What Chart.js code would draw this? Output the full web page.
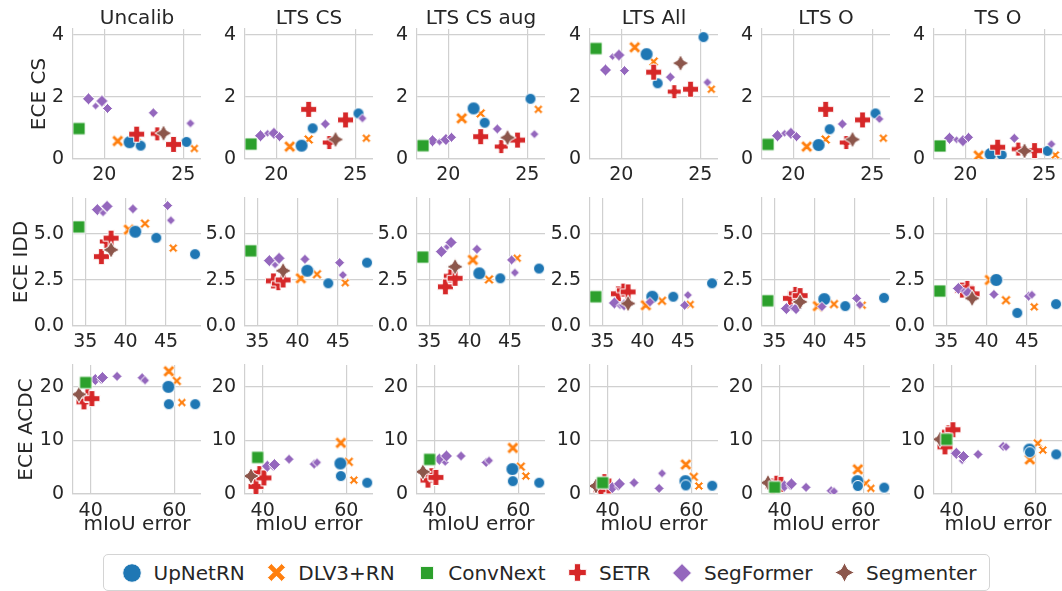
<!DOCTYPE html>
<html>
<head>
<meta charset="utf-8">
<script src="https://cdn.jsdelivr.net/npm/chart.js@4.4.1/dist/chart.umd.min.js"></script>
<style>
  html, body { margin: 0; padding: 0; background: #ffffff; overflow: hidden; width: 1062px; height: 591px; }
  #fig { position: relative; width: 1062px; height: 591px; overflow: hidden; }
  #fig > canvas { position: absolute; }
  #legend {
    position: absolute; left: 103px; top: 554px; width: 887px; height: 37px;
    box-sizing: border-box; border: 1px solid #d4d4d4; border-radius: 5px;
    display: flex; align-items: center; padding-left: 18px;
    font-family: 'DejaVu Sans', sans-serif; font-size: 20px; color: #262626; white-space: nowrap;
  }
  #legend .item { display: flex; align-items: center; margin-right: 22px; }
</style>
</head>
<body>
<div id="fig"><div id="legend"></div></div>
<script>
// ---------------- categories and labels ----------------
const models = ['UpNetRN', 'DLV3+RN', 'ConvNext', 'SETR', 'SegFormer', 'Segmenter'];
const methods = ['Uncalib', 'LTS CS', 'LTS CS aug', 'LTS All', 'LTS O', 'TS O'];
const rowLabels = ['ECE CS', 'ECE IDD', 'ECE ACDC'];
const xLabel = 'mIoU error';

// ---------------- tick labels ----------------
const xTicksCS = [20, 25];
const xTicksIDD = [35, 40, 45];
const xTicksACDC = [40, 60];
const yTicksCS = [0, 2, 4];
const yTicksIDD = [0, 2.5, 5];
const yTicksACDC = [0, 10, 20];

// ---------------- mIoU error of each model variant ----------------
const upnetErrCS = [21.6, 22.3, 25.2];
const dlvErrCS = [20.85, 22.05, 25.7];
const cnErrCS = [18.4];
const setrErrCS = [22.05, 23.35, 24.38];
const sfErrCS = [19.0, 19.45, 19.85, 20.2, 23.1, 25.45];
const segErrCS = [23.75];

const upnetErrIDD = [41.2, 43.8, 48.6];
const dlvErrIDD = [40.4, 42.4, 45.9];
const cnErrIDD = [34.2];
const setrErrIDD = [37.0, 37.6, 38.2];
const sfErrIDD = [36.5, 37.2, 37.7, 40.9, 45.2, 45.6];
const segErrIDD = [38.2];

const upnetErrACDC = [58.6, 58.7, 65.0];
const dlvErrACDC = [58.7, 60.6, 61.8];
const cnErrACDC = [38.8];
const setrErrACDC = [38.4, 39.2, 40.3];
const sfErrACDC = [41.1, 42.5, 42.8, 46.3, 52.3, 53.0];
const segErrACDC = [37.2];

// ---------------- ECE per calibration method (one inner list per method) ----------------
const upnetEceCS = [[0.54, 0.43, 0.55], [0.43, 0.99, 1.47], [1.63, 1.17, 1.94], [3.38, 2.44, 3.93], [0.45, 0.96, 1.47], [0.16, 0.13, 0.26]];
const dlvEceCS = [[0.58, 0.72, 0.34], [0.40, 0.63, 0.67], [1.31, 1.47, 1.60], [3.60, 3.14, 2.25], [0.40, 0.63, 0.67], [0.11, 0.30, 0.13]];
const cnEceCS = [[0.98], [0.48], [0.43], [3.56], [0.47], [0.42]];
const setrEceCS = [[0.80, 0.81, 0.47], [1.60, 0.53, 1.26], [0.72, 0.40, 0.61], [2.80, 2.17, 2.25], [1.60, 0.53, 1.26], [0.38, 0.32, 0.27]];
const sfEceCS = [[1.94, 1.71, 1.87, 1.63, 1.49, 1.15], [0.75, 0.83, 0.83, 0.72, 1.13, 1.31], [0.59, 0.55, 0.63, 0.70, 0.97, 0.80], [2.87, 3.30, 3.35, 2.85, 2.64, 2.47], [0.75, 0.83, 0.83, 0.72, 1.13, 1.29], [0.67, 0.62, 0.59, 0.70, 0.67, 0.48]];
const segEceCS = [[0.83], [0.63], [0.69], [3.09], [0.63], [0.26]];

const upnetEceIDD = [[5.12, 4.79, 3.90], [3.00, 2.32, 3.44], [2.86, 2.59, 3.12], [1.59, 1.59, 2.32], [1.46, 1.08, 1.53], [2.50, 0.71, 1.19]];
const dlvEceIDD = [[5.23, 5.56, 4.23], [2.59, 2.81, 2.35], [3.59, 2.53, 3.68], [1.13, 1.37, 1.17], [1.08, 1.19, 1.13], [2.50, 1.40, 1.04]];
const cnEceIDD = [[5.38], [4.08], [3.74], [1.59], [1.37], [1.90]];
const setrEceIDD = [[3.77, 4.59, 4.77], [2.45, 2.30, 2.50], [2.13, 2.72, 2.59], [1.75, 1.95, 1.85], [1.50, 1.77, 1.65], [1.95, 2.10, 1.75]];
const sfEceIDD = [[6.32, 6.14, 6.50, 6.36, 6.54, 5.74], [3.55, 3.32, 3.68, 3.63, 3.44, 2.77], [4.04, 4.30, 4.54, 4.17, 3.59, 2.90], [1.25, 1.10, 1.15, 1.30, 1.13, 1.68], [0.95, 1.00, 0.95, 1.05, 1.50, 1.15], [2.04, 1.90, 1.80, 1.72, 1.62, 1.70]];
const segEceIDD = [[4.14], [3.00], [3.22], [1.22], [1.31], [1.50]];

const upnetEceACDC = [[20.0, 16.76, 16.76], [5.7, 3.35, 2.1], [4.65, 2.4, 2.1], [2.4, 1.6, 1.55], [2.4, 1.5, 1.2], [8.3, 7.8, 7.4]];
const dlvEceACDC = [[22.9, 21.1, 17.07], [9.55, 6.0, 2.6], [8.6, 5.1, 3.35], [5.5, 3.2, 1.5], [4.6, 2.0, 1.05], [6.45, 9.45, 8.2]];
const cnEceACDC = [[20.8], [6.83], [6.45], [2.1], [1.25], [10.2]];
const setrEceACDC = [[17.2, 18.4, 17.8], [1.4, 4.0, 3.0], [2.6, 3.6, 3.1], [0.8, 2.5, 1.5], [1.5, 2.2, 1.8], [8.8, 11.6, 12.0]];
const sfEceACDC = [[21.36, 21.2, 21.73, 21.97, 21.7, 21.2], [5.2, 5.0, 5.5, 6.5, 5.58, 5.9], [6.5, 5.9, 7.1, 7.1, 5.9, 6.25], [1.2, 1.3, 1.9, 2.1, 1.05, 3.85], [1.5, 1.4, 1.9, 1.25, 0.6, 0.5], [7.6, 6.2, 7.0, 7.4, 8.9, 8.8]];
const segEceACDC = [[18.6], [3.35], [4.15], [1.5], [2.1], [10.2]];

// ---------------- styling ----------------
const FONT = "'DejaVu Sans', sans-serif";
const INK = '#262626';
const GRID = '#d0d0d0';
const colors = ['#1f77b4', '#ff7f0e', '#2ca02c', '#d62728', '#9467bd', '#8c564b'];
const shapes = ['circle', 'x', 'square', 'plus', 'diamond', 'star'];
const markerRadius = [[6.5, 5.5, 5.5], [6, 5, 4.5], [8.5], [8, 7, 8], [6, 3.8, 6, 5, 5, 4.5], [8.5]];
const legendRadius = [9.3, 9, 9.2, 8.8, 9.5, 9.8];
const drawOrder = [4, 5, 0, 3, 2, 1];   // lower value is painted on top

const colLeft = [73, 245, 417, 590, 762, 934];
const PLOT_W = 128;
const Y_AXIS_W = 72;
const rowLayout = [
  { top: 29, plotH: 130, xMin: 18.02, xMax: 26.12, yMax: 4.19, xTicks: xTicksCS, yTicks: yTicksCS, digits: 0, xAxisH: 30, tickPad: 5, yTitlePad: 26.7 },
  { top: 198, plotH: 128, xMin: 33.48, xMax: 49.34, yMax: 6.95, xTicks: xTicksIDD, yTicks: yTicksIDD, digits: 1, xAxisH: 30, tickPad: 5, yTitlePad: 8.3 },
  { top: 365, plotH: 129, xMin: 35.77, xMax: 66.39, yMax: 24.07, xTicks: xTicksACDC, yTicks: yTicksACDC, digits: 0, xAxisH: 53, tickPad: 6, yTitlePad: 13.8 }
];

const errByRow = [
  [upnetErrCS, dlvErrCS, cnErrCS, setrErrCS, sfErrCS, segErrCS],
  [upnetErrIDD, dlvErrIDD, cnErrIDD, setrErrIDD, sfErrIDD, segErrIDD],
  [upnetErrACDC, dlvErrACDC, cnErrACDC, setrErrACDC, sfErrACDC, segErrACDC]
];
const eceByRow = [
  [upnetEceCS, dlvEceCS, cnEceCS, setrEceCS, sfEceCS, segEceCS],
  [upnetEceIDD, dlvEceIDD, cnEceIDD, setrEceIDD, sfEceIDD, segEceIDD],
  [upnetEceACDC, dlvEceACDC, cnEceACDC, setrEceACDC, sfEceACDC, segEceACDC]
];

// ---------------- marker sprites (filled shapes with a thin white edge) ----------------
function tracePoly(g, pts, rot) {
  const cs = Math.cos(rot), sn = Math.sin(rot);
  pts.forEach(([px, py], i) => {
    const X = px * cs - py * sn, Y = px * sn + py * cs;
    if (i === 0) g.moveTo(X, Y); else g.lineTo(X, Y);
  });
  g.closePath();
}

function markerCanvas(shape, color, r) {
  const pad = 1.5;
  const s = Math.ceil(2 * r + 2 * pad);
  const cv = document.createElement('canvas');
  cv.width = s; cv.height = s;
  const g = cv.getContext('2d');
  g.translate(s / 2, s / 2);
  g.beginPath();
  if (shape === 'circle') {
    g.arc(0, 0, r, 0, Math.PI * 2);
  } else if (shape === 'square') {
    const h = r * 0.72;
    g.rect(-h, -h, 2 * h, 2 * h);
  } else if (shape === 'diamond') {
    tracePoly(g, [[0, -r], [r, 0], [0, r], [-r, 0]], 0);
  } else if (shape === 'plus' || shape === 'x') {
    const a = r * (shape === 'plus' ? 0.36 : 0.3);
    const L = shape === 'plus' ? r : r * Math.SQRT2 - a;
    const pts = [[a, -L], [a, -a], [L, -a], [L, a], [a, a], [a, L], [-a, L], [-a, a], [-L, a], [-L, -a], [-a, -a], [-a, -L]];
    tracePoly(g, pts, shape === 'x' ? Math.PI / 4 : 0);
  } else if (shape === 'star') {
    const pts = [];
    for (let k = 0; k < 8; k++) {
      const ang = -Math.PI / 2 + k * Math.PI / 4;
      const rr = k % 2 === 0 ? r : r * 0.5;
      pts.push([rr * Math.cos(ang), rr * Math.sin(ang)]);
    }
    tracePoly(g, pts, 0);
  }
  g.fillStyle = color;
  g.fill();
  g.lineWidth = 1;
  g.strokeStyle = '#ffffff';
  g.stroke();
  return cv;
}

const sprites = models.map((m, k) => markerRadius[k].map(r => markerCanvas(shapes[k], colors[k], r)));

// ---------------- one facet: a scatter of ECE against mIoU error ----------------
function panelConfig(r, c) {
  const lay = rowLayout[r];
  const datasets = models.map((m, k) => ({
    label: m,
    data: errByRow[r][k].map((x, i) => ({ x: x, y: eceByRow[r][k][c][i] })),
    pointStyle: sprites[k],
    pointRadius: markerRadius[k],
    backgroundColor: colors[k],
    borderColor: '#ffffff',
    order: drawOrder[k]
  }));
  const tickFont = { family: FONT, size: 19 };
  return {
    type: 'scatter',
    data: { datasets: datasets },
    options: {
      responsive: false,
      animation: false,
      devicePixelRatio: 1,
      layout: { autoPadding: false, padding: { top: r === 0 ? 0 : 14, left: 0, right: 0, bottom: 0 } },
      plugins: {
        legend: { display: false },
        tooltip: { enabled: false },
        title: {
          display: r === 0,
          text: methods[c],
          color: INK,
          fullSize: false,
          font: { family: FONT, size: 20, weight: 'normal', lineHeight: 0.8 },
          padding: { top: 4, bottom: 2 }
        }
      },
      scales: {
        x: {
          type: 'linear',
          min: lay.xMin, max: lay.xMax,
          afterBuildTicks: s => { s.ticks = lay.xTicks.map(v => ({ value: v })); },
          afterFit: s => { s.height = lay.xAxisH; s.paddingLeft = 0; s.paddingRight = 0; },
          grid: { color: GRID, lineWidth: 1.2, drawTicks: false },
          border: { color: GRID, width: 1.2 },
          ticks: { color: INK, font: tickFont, padding: lay.tickPad, maxRotation: 0, autoSkip: false,
                   callback: v => String(v) },
          title: {
            display: r === 2,
            text: xLabel,
            color: INK,
            font: { family: FONT, size: 20 },
            padding: { top: 0, bottom: 10 }
          }
        },
        y: {
          type: 'linear',
          min: 0, max: lay.yMax,
          afterBuildTicks: s => { s.ticks = lay.yTicks.map(v => ({ value: v })); },
          afterFit: s => { s.width = Y_AXIS_W; s.paddingTop = 0; s.paddingBottom = 0; },
          grid: { color: GRID, lineWidth: 1.2, drawTicks: false },
          border: { color: GRID, width: 1.2 },
          ticks: { color: INK, font: tickFont, padding: 9, autoSkip: false,
                   callback: v => Number(v).toFixed(lay.digits) },
          title: {
            display: c === 0,
            text: rowLabels[r],
            color: INK,
            font: { family: FONT, size: 20 },
            padding: { top: lay.yTitlePad, bottom: 0 }
          }
        }
      }
    }
  };
}

const fig = document.getElementById('fig');

function mountPanel(r, c) {
  const lay = rowLayout[r];
  const cv = document.createElement('canvas');
  const w = Y_AXIS_W + PLOT_W;
  const h = (r === 0 ? 22 : 14) + lay.plotH + lay.xAxisH;
  cv.width = w; cv.height = h;
  cv.style.width = w + 'px'; cv.style.height = h + 'px';
  fig.appendChild(cv);
  const chart = new Chart(cv, panelConfig(r, c));
  const a = chart.chartArea;
  cv.style.left = Math.round(colLeft[c] - a.left) + 'px';
  cv.style.top = Math.round(lay.top - a.top) + 'px';
}

for (let r = 0; r < rowLayout.length; r++) {
  for (let c = 0; c < methods.length; c++) mountPanel(r, c);
}

// ---------------- shared legend ----------------
const legend = document.getElementById('legend');
models.forEach((m, k) => {
  const item = document.createElement('div');
  item.className = 'item';
  const mk = markerCanvas(shapes[k], colors[k], legendRadius[k]);
  const box = document.createElement('div');
  box.style.cssText = 'width:20px;height:20px;display:flex;align-items:center;justify-content:center;margin-right:11.5px;';
  box.appendChild(mk);
  const label = document.createElement('span');
  label.textContent = m;
  item.appendChild(box);
  item.appendChild(label);
  legend.appendChild(item);
});
</script>
</body>
</html>
